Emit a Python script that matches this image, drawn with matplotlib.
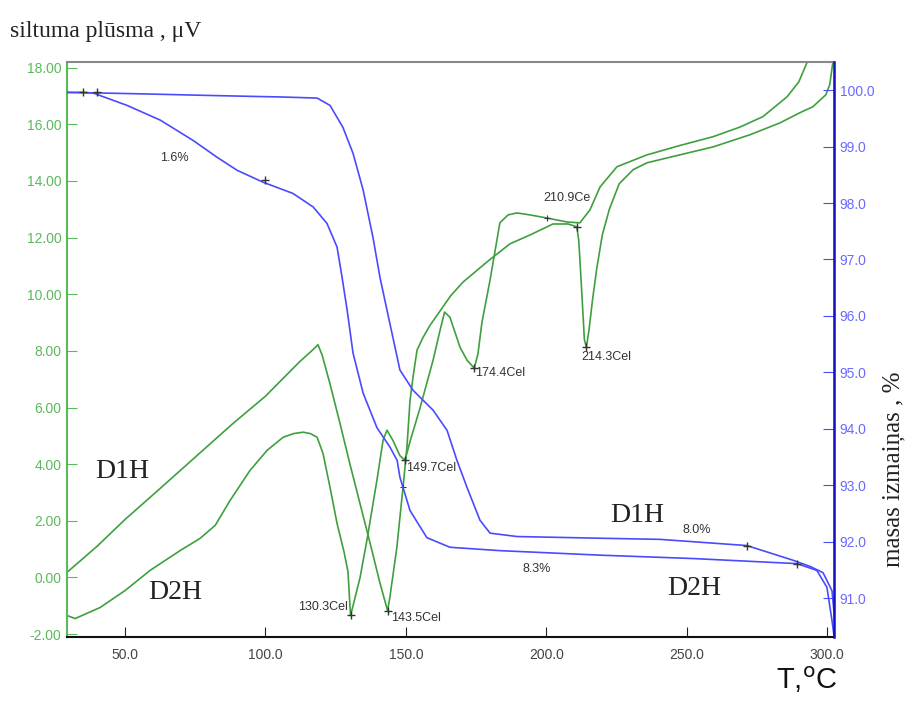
import matplotlib.pyplot as plt

# DSC curves (left axis, heat flow uV)
d1h_dsc_t = [29.3, 40, 50, 62, 75, 88, 100, 112, 117, 118.7, 120.2, 123, 126.6, 130.1, 133.7,
             137.3, 140.8, 143.5, 144.3, 146.8, 149.0, 150.4, 151.5, 152.6, 154.0, 156.0, 158.6,
             163.2, 166, 170.4, 178.9, 187.1, 194.2, 202.4, 207.8, 210.9, 211.6, 212.6, 213.6,
             214.3, 215.2, 216.5, 218.0, 220.0, 222.5, 226, 231, 235.9, 247.6, 259.4, 272.6,
             283.3, 290.4, 295, 299.6, 301.0, 302.1]
d1h_dsc_v = [0.18, 1.1, 2.05, 3.1, 4.25, 5.4, 6.4, 7.6, 8.05, 8.22, 7.85, 6.83, 5.42, 4.0, 2.6,
             1.2, -0.2, -1.17, -0.71, 1.06, 3.18, 4.6, 6.26, 7.1, 8.03, 8.45, 8.9,
             9.55, 9.95, 10.43, 11.14, 11.78, 12.09, 12.48, 12.48, 12.38, 11.9, 10.2, 8.4,
             8.13, 8.7, 9.8, 10.9, 12.1, 13.0, 13.9, 14.4, 14.64, 14.92, 15.2, 15.63,
             16.05, 16.41, 16.62, 17.04, 17.4, 18.18]

d2h_dsc_t = [29.3, 32.2, 41.1, 50, 58.9, 69.6, 76.7, 82.1, 87.4, 94.5, 100.6, 106.3, 110, 113.4,
             116, 118.4, 120.5, 123.0, 125.5, 128.0, 129.4, 130.3, 131.2, 133.7, 136.2, 139.7,
             141.9, 143.3, 145.4, 147.9, 149.7, 151.5, 155.1, 159.7, 162.2, 163.8, 165.7, 169.3,
             171.8, 174.4, 175.7, 177.1, 180.0, 183.5, 186.4, 189.6, 194.2, 200.3, 207.4, 212.0,
             215.6, 219.2, 225.2, 235.9, 247.6, 259.4, 269, 277.2, 285.8, 290, 292.9]
d2h_dsc_v = [-1.34, -1.45, -1.06, -0.46, 0.25, 0.95, 1.38, 1.84, 2.72, 3.78, 4.49, 4.95, 5.08, 5.13,
             5.08, 4.95, 4.38, 3.18, 1.91, 0.9, 0.2, -1.34, -1.0, 0.0, 1.35, 3.43,
             4.85, 5.2, 4.84, 4.3, 4.14, 4.8, 6.0, 7.67, 8.73, 9.37, 9.19, 8.13,
             7.67, 7.39, 7.9, 9.0, 10.5, 12.52, 12.8, 12.87, 12.8, 12.69, 12.55, 12.52,
             12.98, 13.79, 14.5, 14.92, 15.25, 15.56, 15.9, 16.27, 16.97, 17.5, 18.18]

# TG curves (right axis, mass change %)
d1h_tg_t = [29.3, 41.1, 60, 76.7, 95, 105.2, 118.4, 123.0, 127.6, 131.2, 134.8, 138.3, 140.8,
            143.3, 147.9, 152.6, 159.7, 164.7, 168.2, 171.8, 176.4, 180.0, 189.6, 219.2, 240.5,
            271.5, 287.9, 294, 298.6, 301.8, 302.8]
d1h_tg_v = [99.96, 99.95, 99.93, 99.91, 99.89, 99.88, 99.86, 99.73, 99.34, 98.88, 98.23, 97.39, 96.68,
            96.10, 95.04, 94.68, 94.33, 93.97, 93.44, 92.96, 92.38, 92.15, 92.09, 92.06, 92.04,
            91.93, 91.67, 91.56, 91.45, 91.13, 90.60]

d2h_tg_t = [29.3, 35.0, 38.6, 50.7, 62.5, 74.2, 82.8, 89.9, 99.1, 109.8, 117.0, 121.9, 125.5,
            127.3, 129.1, 131.2, 134.8, 139.7, 144.4, 146.9, 147.9, 151.5, 157.5, 165.7, 183.5,
            219.2, 252.3, 289.3, 296.4, 300.0, 301.8, 302.5]
d2h_tg_v = [99.96, 99.96, 99.95, 99.73, 99.47, 99.11, 98.81, 98.58, 98.37, 98.17, 97.93, 97.64, 97.22,
            96.68, 96.10, 95.34, 94.63, 94.02, 93.67, 93.44, 93.14, 92.55, 92.07, 91.90, 91.84,
            91.76, 91.70, 91.61, 91.49, 91.19, 90.60, 90.34]

# peak labels on DSC curves
peak_labels = ["130.3Cel", "143.5Cel", "149.7Cel", "174.4Cel", "210.9Ce", "214.3Cel"]
peak_t = [130.3, 143.5, 149.7, 174.4, 210.9, 214.3]
peak_v = [-1.34, -1.17, 4.14, 7.39, 12.38, 8.13]

# mass loss labels (right axis)
loss_labels = ["1.6%", "8.3%", "8.0%"]
loss_t = [62.5, 191.4, 248.7]
loss_v = [98.8, 91.51, 92.2]

green = "#3f9f3f"
blue = "#4a4aff"
gray = "#333333"

fig = plt.figure(figsize=(9.05, 7.04), dpi=100)
ax = fig.add_axes([0.074, 0.0952, 0.8475, 0.8168])
ax2 = ax.twinx()

ax.plot(d1h_dsc_t, d1h_dsc_v, color=green, lw=1.2)
ax.plot(d2h_dsc_t, d2h_dsc_v, color=green, lw=1.2)
ax2.plot(d1h_tg_t, d1h_tg_v, color=blue, lw=1.2)
ax2.plot(d2h_tg_t, d2h_tg_v, color=blue, lw=1.2)

# markers
ax.plot(peak_t, peak_v, "+", color=gray, ms=6, mew=1)
ax.plot([149.0, 200.3], [3.18, 12.69], "+", color=gray, ms=4, mew=0.8)
ax2.plot([35.0, 40.0, 100.0, 271.5, 289.3], [99.96, 99.96, 98.40, 91.93, 91.61],
         "+", color=gray, ms=6, mew=1)

# peak annotations (offsets in pixels)
offs = [(-3, 8), (3, -7), (1, -8), (1, -5), (-10, 29), (-5, -10)]
has = ["right", "left", "left", "left", "center", "left"]
for lab, t, v, o, h in zip(peak_labels, peak_t, peak_v, offs, has):
    ax.annotate(lab, (t, v), xytext=o, textcoords="offset pixels", ha=h, va="center",
                fontsize=9, color=gray, family="Liberation Sans")

for lab, t, v in zip(loss_labels, loss_t, loss_v):
    ax2.text(t, v, lab, fontsize=9, color=gray, family="Liberation Sans", va="center")

serif = "Liberation Serif"
ax.text(49, 3.75, "D1H", fontsize=20, family=serif, color="#222222", ha="center", va="center")
ax.text(67.8, -0.53, "D2H", fontsize=20, family=serif, color="#222222", ha="center", va="center")
ax.text(232.3, 2.2, "D1H", fontsize=20, family=serif, color="#222222", ha="center", va="center")
ax.text(252.6, -0.39, "D2H", fontsize=20, family=serif, color="#222222", ha="center", va="center")

# axes formatting
ax.set_xlim(29.3, 302.5)
ax.set_ylim(-2.1, 18.2)
ax2.set_ylim(90.31, 100.5)
ax.set_xticks([50, 100, 150, 200, 250, 300])
ax.set_xticklabels(["%.1f" % v for v in [50, 100, 150, 200, 250, 300]])
ax.set_yticks(range(-2, 19, 2))
ax.set_yticklabels(["%.2f" % v for v in range(-2, 19, 2)])
ax2.set_yticks(range(91, 101))
ax2.set_yticklabels(["%.1f" % v for v in range(91, 101)])

ax.tick_params(axis="x", direction="in", length=7, colors="#222222", labelcolor="#444444",
               labelsize=10, pad=8)
ax.tick_params(axis="y", direction="in", length=7, colors="#5cb85c", labelcolor="#5cb85c",
               labelsize=10, pad=4)
ax2.tick_params(axis="y", direction="in", length=8, colors="#4a4aff", labelcolor="#6a6aff",
                labelsize=10, pad=4)
for t in ax.get_xticklabels() + ax.get_yticklabels() + ax2.get_yticklabels():
    t.set_family("Liberation Sans")

ax.spines["left"].set_color("#5cb85c")
ax.spines["left"].set_linewidth(1.5)
ax.spines["bottom"].set_color("#111111")
ax.spines["bottom"].set_linewidth(1.5)
ax.spines["top"].set_color("#888888")
ax.spines["top"].set_linewidth(1.5)
ax2.spines["right"].set_color("#1010c0")
ax2.spines["right"].set_linewidth(1.8)
ax2.spines["left"].set_visible(False)
ax2.spines["top"].set_visible(False)
ax2.spines["bottom"].set_visible(False)

fig.text(0.011, 0.948, "siltuma plūsma , μV", fontsize=17, family=serif, color="#222222",
         ha="left", va="baseline")
fig.text(0.987, 0.333, "masas izmaiņas , %", fontsize=18, family=serif, color="#222222",
         rotation=90, ha="center", va="center")
fig.text(0.857, 0.022, "T,$^{\\mathrm{o}}$C", fontsize=21, color="#111111", ha="left",
         va="baseline", family="Liberation Sans")

fig.savefig("out.png", dpi=100)
